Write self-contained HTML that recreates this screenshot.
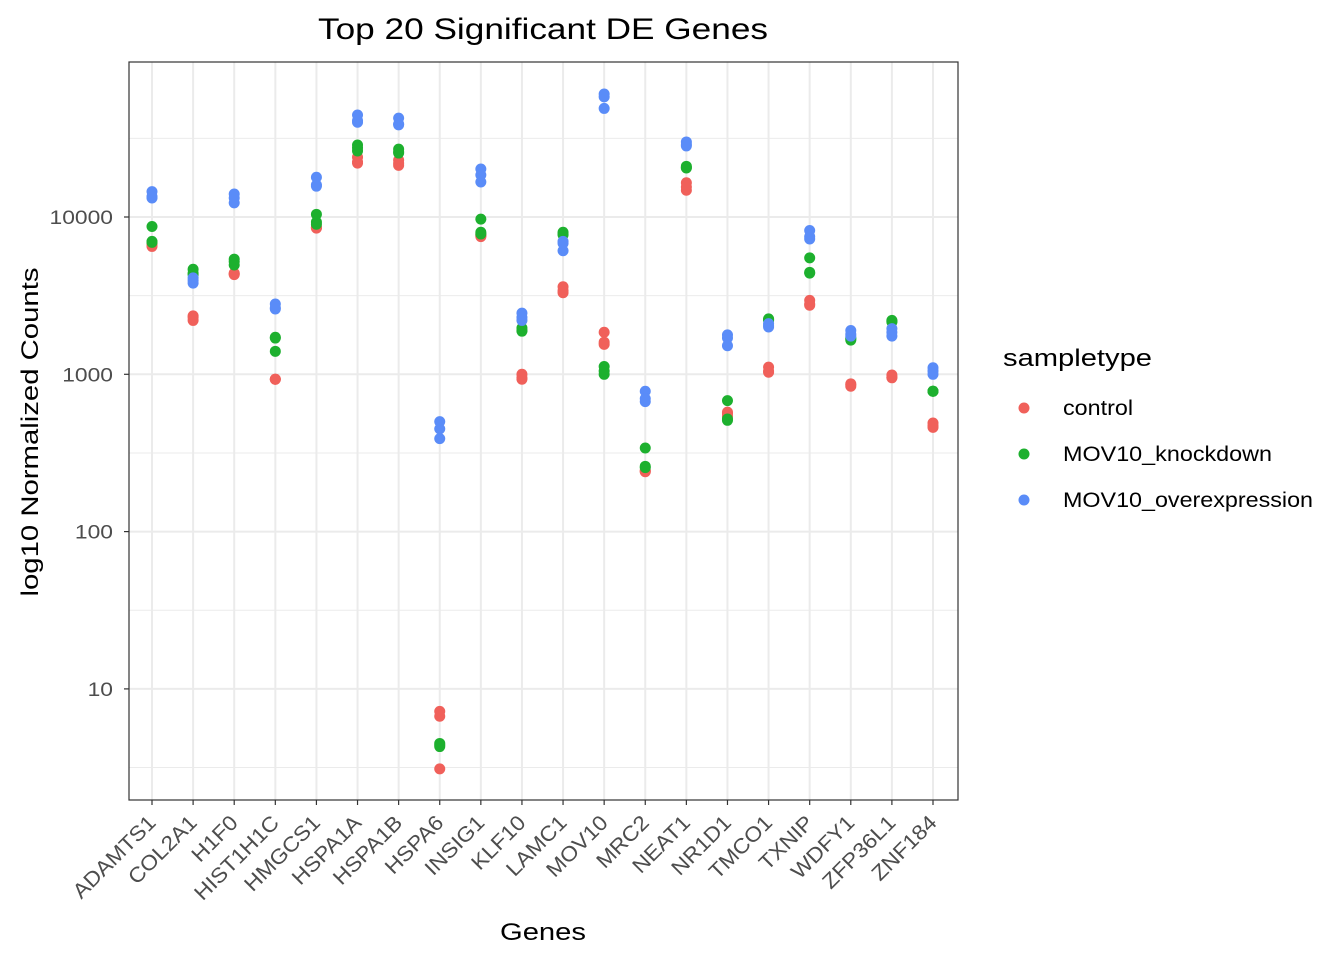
<!DOCTYPE html>
<html><head><meta charset="utf-8"><style>
body{margin:0;background:#fff;font-family:"Liberation Sans",Arial,sans-serif}
svg text{font-family:"Liberation Sans",Arial,sans-serif}
</style></head><body>
<svg id="chart" width="1344" height="960" xmlns="http://www.w3.org/2000/svg">
<rect width="1344" height="960" fill="#fff"/>
<text x="543" y="39" font-size="30" text-anchor="middle" fill="#000" textLength="450" lengthAdjust="spacingAndGlyphs">Top 20 Significant DE Genes</text>
<g id="grid"></g><g id="pts"></g><g id="axes"></g>
<text x="543" y="940" font-size="24" text-anchor="middle" textLength="86" lengthAdjust="spacingAndGlyphs">Genes</text>
<text transform="translate(38,432) rotate(-90)" font-size="24" text-anchor="middle" textLength="329" lengthAdjust="spacingAndGlyphs">log10 Normalized Counts</text>
<g>
<text x="1003" y="366" font-size="24" textLength="149" lengthAdjust="spacingAndGlyphs">sampletype</text>
<circle cx="1024" cy="408" r="5.5" fill="#F0605A"/>
<text x="1063" y="415" font-size="21" textLength="70" lengthAdjust="spacingAndGlyphs">control</text>
<circle cx="1024" cy="454" r="5.5" fill="#1DB02E"/>
<text x="1063" y="461" font-size="21" textLength="209" lengthAdjust="spacingAndGlyphs">MOV10_knockdown</text>
<circle cx="1024" cy="500" r="5.5" fill="#5A8CF8"/>
<text x="1063" y="507" font-size="21" textLength="250" lengthAdjust="spacingAndGlyphs">MOV10_overexpression</text>
</g>
</svg>
<script>
const genes=["ADAMTS1","COL2A1","H1F0","HIST1H1C","HMGCS1","HSPA1A","HSPA1B","HSPA6","INSIG1","KLF10","LAMC1","MOV10","MRC2","NEAT1","NR1D1","TMCO1","TXNIP","WDFY1","ZFP36L1","ZNF184"];
const control=[[6500,6900,6700],[2350,2200,2300],[4400,4300,4350],[930,930,930],[8500,8600,8550],[24000,22400,22000],[23000,21300,22000],[7.2,6.7,3.1],[7500,7700,7600],[1000,930,950],[3600,3300,3400],[1850,1550,1600],[240,245,242],[16500,14800,15500],[575,540,560],[1110,1030,1050],[2950,2750,2800],[870,840,860],[990,950,960],[490,460,470]];
const knockdown=[[8700,6900,7000],[4650,4300,4400],[5400,5200,4950],[1720,1400,1700],[10400,9300,9000],[28700,26300,27500],[27000,25500,26000],[4.5,4.3,4.4],[9700,8000,7800],[1970,1880,1900],[8000,7700,7800],[1120,1000,1050],[340,260,255],[21000,20500,20600],[680,510,520],[2250,2200,2230],[5500,4400,4450],[1680,1650,1700],[2200,2150,2170],[780,780,780]];
const overexpression=[[14500,13200,13500],[3950,3800,4100],[14000,13200,12300],[2800,2600,2650],[17900,15700,16000],[44500,40000,41000],[42500,38500,39000],[500,450,390],[20200,18500,16700],[2450,2200,2300],[7000,6100,6800],[60500,58000,49000],[780,670,700],[30000,28300,29000],[1780,1520,1700],[2100,2000,2050],[8200,7250,7500],[1900,1750,1800],[1950,1750,1850],[1100,1000,1050]];
const yTicks=[10,100,1000,10000];
const yTickLabels=["10","100","1000","10000"];
const NS="http://www.w3.org/2000/svg";
const PL=129,PR=958,PT=62,PB=800;
const yS=v=>217-(Math.log10(v)-4)*157.3;
const xS=i=>152+i*(933-152)/(genes.length-1);
function mk(t,a,p){const e=document.createElementNS(NS,t);for(const k in a)e.setAttribute(k,a[k]);p.appendChild(e);return e;}
function widen(el,f){const w=el.getComputedTextLength();el.setAttribute('textLength',w*f);el.setAttribute('lengthAdjust','spacingAndGlyphs');}
const grid=document.getElementById('grid'),pts=document.getElementById('pts'),axes=document.getElementById('axes');
for(let d=0.5;d<=4.5;d+=1){const y=yS(Math.pow(10,d));if(y>PT&&y<PB){const l=mk('line',{x1:PL,x2:PR,y1:y,y2:y,stroke:'#ebebeb','stroke-width':1},grid);

}}
yTicks.forEach((v,i)=>{const y=yS(v);const l=mk('line',{x1:PL,x2:PR,y1:y,y2:y,stroke:'#ebebeb','stroke-width':2},grid);


const t=mk('line',{x1:PL-5,x2:PL,y1:y,y2:y,stroke:'#333','stroke-width':1.2},axes);


const tx=mk('text',{x:PL-16,y:y+7,'font-size':19.5,'text-anchor':'end',fill:'#4d4d4d'},axes);tx.textContent=yTickLabels[i];


widen(tx,1.17);});
genes.forEach((g,i)=>{const x=xS(i);const l=mk('line',{x1:x,x2:x,y1:PT,y2:PB,stroke:'#ebebeb','stroke-width':2},grid);


const t=mk('line',{x1:x,x2:x,y1:PB,y2:PB+5,stroke:'#333','stroke-width':1.2},axes);


const tx=mk('text',{transform:`translate(${x+5},${PB+24}) rotate(-45)`,'font-size':21,'text-anchor':'end',fill:'#4d4d4d'},axes);tx.textContent=g;


widen(tx,1.08);});
const r=mk('rect',{x:PL,y:PT,width:PR-PL,height:PB-PT,fill:'none',stroke:'#333','stroke-width':1.2},axes);


[[control,'#F0605A','control'],[knockdown,'#1DB02E','knockdown'],[overexpression,'#5A8CF8','overexpression']].forEach(([arr,c,n])=>{
arr.forEach((vals,i)=>vals.forEach(v=>{const p=mk('circle',{cx:xS(i),cy:yS(v),r:5.5,fill:c},pts);

}));});
</script>
</body></html>
